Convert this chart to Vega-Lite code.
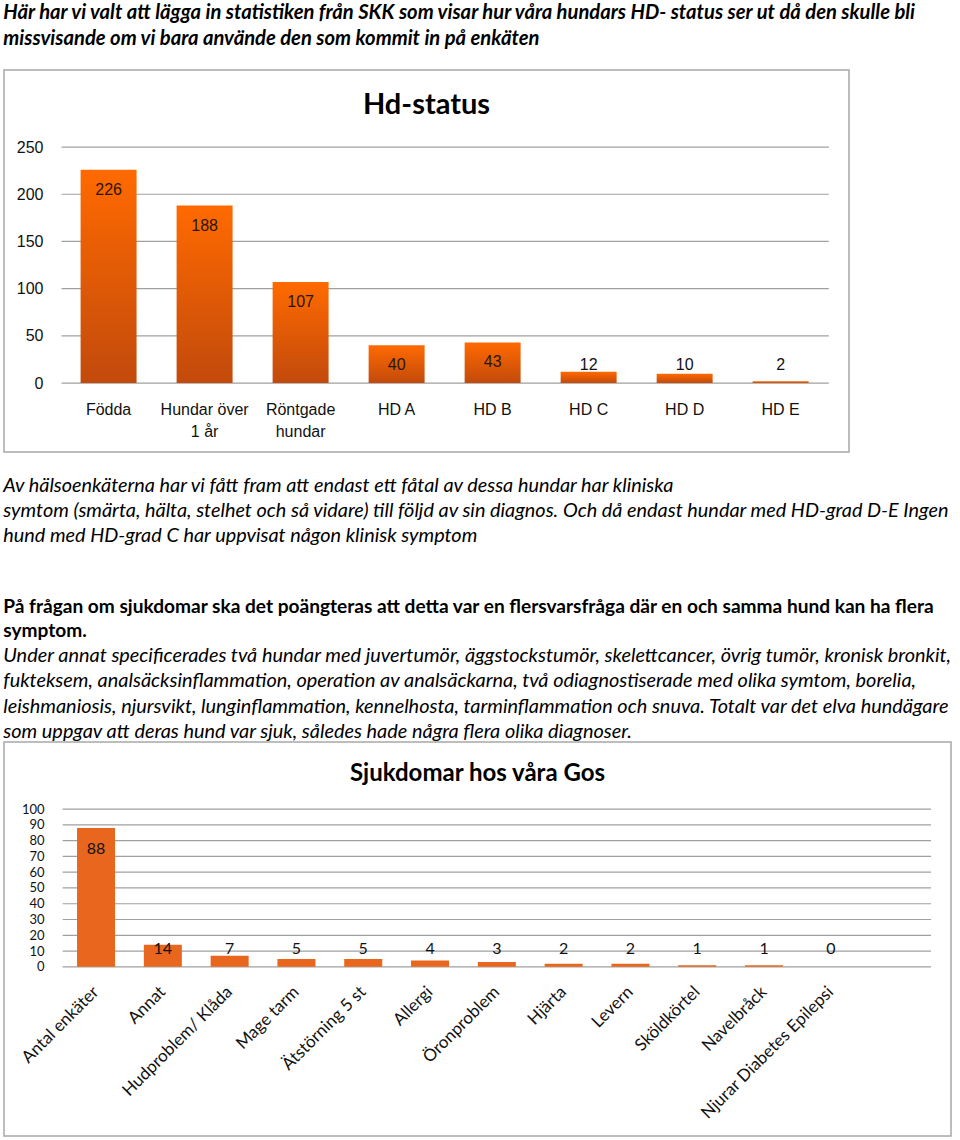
{
  "$schema": "https://vega.github.io/schema/vega-lite/v6.json",
  "background": "white",
  "padding": {"left": 3, "top": 3, "right": 0, "bottom": 0},
  "config": {
    "view": {"stroke": "#a8a8a8", "strokeWidth": 1.5},
    "concat": {"spacing": 0},
    "axis": {"domain": false, "ticks": false, "tickSize": 0, "grid": false, "title": null, "labelColor": "#111", "labelOverlap": false, "labelFlush": false, "labelLimit": 400},
    "axisY": {"labelOverlap": false},
    "axisQuantitative": {"labelOverlap": false}
  },
  "datasets": {
    "hd": [
      {"kategori": "Födda", "antal": 226},
      {"kategori": "Hundar över 1 år", "antal": 188},
      {"kategori": "Röntgade hundar", "antal": 107},
      {"kategori": "HD A", "antal": 40},
      {"kategori": "HD B", "antal": 43},
      {"kategori": "HD C", "antal": 12},
      {"kategori": "HD D", "antal": 10},
      {"kategori": "HD E", "antal": 2}
    ],
    "grid1": [{"v": 0}, {"v": 50}, {"v": 100}, {"v": 150}, {"v": 200}, {"v": 250}],
    "sjuk": [
      {"kategori": "Antal enkäter", "antal": 88},
      {"kategori": "Annat", "antal": 14},
      {"kategori": "Hudproblem/ Klåda", "antal": 7},
      {"kategori": "Mage tarm", "antal": 5},
      {"kategori": "Ätstörning 5 st", "antal": 5},
      {"kategori": "Allergi", "antal": 4},
      {"kategori": "Öronproblem", "antal": 3},
      {"kategori": "Hjärta", "antal": 2},
      {"kategori": "Levern", "antal": 2},
      {"kategori": "Sköldkörtel", "antal": 1},
      {"kategori": "Navelbråck", "antal": 1},
      {"kategori": "Njurar Diabetes Epilepsi", "antal": 0}
    ],
    "grid2": [{"v": 0}, {"v": 10}, {"v": 20}, {"v": 30}, {"v": 40}, {"v": 50}, {"v": 60}, {"v": 70}, {"v": 80}, {"v": 90}, {"v": 100}]
  },
  "title": {
    "text": ["Här har vi valt att lägga in statistiken från SKK som visar hur våra hundars HD- status ser ut då den skulle bli", "missvisande om vi bara använde den som kommit in på enkäten"],
    "anchor": "start", "font": "Lato", "fontSize": 20.2, "fontWeight": "bold", "fontStyle": "italic", "lineHeight": 26, "color": "#000", "offset": 20
  },
  "spacing": 51,
  "vconcat": [
    {
      "title": {
        "text": ["Av hälsoenkäterna har vi fått fram att endast ett fåtal av dessa hundar har kliniska", "symtom (smärta, hälta, stelhet och så vidare) till följd av sin diagnos. Och då endast hundar med HD-grad D-E Ingen", "hund med HD-grad C har uppvisat någon klinisk symptom"],
        "orient": "bottom", "anchor": "start", "font": "Lato", "fontSize": 19.85, "fontWeight": "normal", "fontStyle": "italic", "lineHeight": 25, "color": "#000", "offset": 23
      },
      "vconcat": [
        {
          "width": 845,
          "height": 382,
          "title": {"text": "Hd-status", "font": "Lato", "fontSize": 29, "fontWeight": "bold", "color": "#000", "anchor": "middle", "offset": -50},
          "layer": [
            {
              "data": {"name": "grid1"},
              "mark": {"type": "rule", "color": "#a0a0a0", "strokeWidth": 1.2},
              "encoding": {
                "y": {"field": "v", "type": "quantitative", "scale": {"domain": [-73, 331.6], "nice": false, "zero": false},
                  "axis": {"orient": "left", "offset": -39, "labelPadding": 0, "labelOverlap": false, "values": [0, 50, 100, 150, 200, 250], "labelFont": "Liberation Sans", "labelFontSize": 16}},
                "x": {"datum": "Födda", "bandPosition": -0.34},
                "x2": {"datum": "HD E", "bandPosition": 1.36}
              }
            },
            {
              "data": {"name": "hd"},
              "mark": {"type": "bar", "color": {"gradient": "linear", "x1": 0, "y1": 0, "x2": 0, "y2": 1, "stops": [{"offset": 0, "color": "#ff6a00"}, {"offset": 1, "color": "#c24a0c"}]}},
              "encoding": {
                "x": {
                  "field": "kategori", "type": "nominal", "sort": null,
                  "scale": {"domain": ["Födda", "Hundar över 1 år", "Röntgade hundar", "HD A", "HD B", "HD C", "HD D", "HD E"], "paddingInner": 0.417, "paddingOuter": 0.609, "align": 0.655},
                  "axis": {"orient": "bottom", "offset": -69, "labelPadding": 18, "labelAngle": 0, "labelAlign": "center", "labelFont": "Liberation Sans", "labelFontSize": 16, "labelLineHeight": 22, "labelBaseline": "top",
                    "labelExpr": "datum.value == 'Hundar över 1 år' ? ['Hundar över', '1 år'] : datum.value == 'Röntgade hundar' ? ['Röntgade', 'hundar'] : datum.label"}
                },
                "y": {
                  "field": "antal", "type": "quantitative",
                  "scale": {"domain": [-73, 331.6], "nice": false, "zero": false},
                  "axis": {"orient": "left", "offset": -39, "labelPadding": 0, "labelOverlap": false, "values": [0, 50, 100, 150, 200, 250], "labelFont": "Liberation Sans", "labelFontSize": 16}
                }
              }
            },
            {
              "data": {"name": "hd"},
              "transform": [{"filter": "datum.antal >= 40"}],
              "mark": {"type": "text", "font": "Liberation Sans", "fontSize": 16, "color": "#2a1608", "baseline": "middle", "dy": 20},
              "encoding": {
                "x": {"field": "kategori", "type": "nominal", "sort": null},
                "y": {"field": "antal", "type": "quantitative",
                  "axis": {"orient": "left", "offset": -39, "labelPadding": 0, "labelOverlap": false, "values": [0, 50, 100, 150, 200, 250], "labelFont": "Liberation Sans", "labelFontSize": 16}},
                "text": {"field": "antal", "type": "quantitative"}
              }
            },
            {
              "data": {"name": "hd"},
              "transform": [{"filter": "datum.antal < 40"}],
              "mark": {"type": "text", "font": "Liberation Sans", "fontSize": 16, "color": "#111", "baseline": "middle"},
              "encoding": {
                "x": {"field": "kategori", "type": "nominal", "sort": null},
                "y": {"datum": 19,
                  "axis": {"orient": "left", "offset": -39, "labelPadding": 0, "labelOverlap": false, "values": [0, 50, 100, 150, 200, 250], "labelFont": "Liberation Sans", "labelFontSize": 16}},
                "text": {"field": "antal", "type": "quantitative"}
              }
            }
          ]
        }
      ]
    },
    {
      "title": {
        "text": ["På frågan om sjukdomar ska det poängteras att detta var en flersvarsfråga där en och samma hund kan ha flera", "symptom."],
        "subtitle": ["Under annat specificerades två hundar med juvertumör, äggstockstumör, skelettcancer, övrig tumör, kronisk bronkit,", "fukteksem, analsäcksinflammation, operation av analsäckarna, två odiagnostiserade med olika symtom, borelia,", "leishmaniosis, njursvikt, lunginflammation, kennelhosta, tarminflammation och snuva. Totalt var det elva hundägare", "som uppgav att deras hund var sjuk, således hade några flera olika diagnoser."],
        "anchor": "start", "font": "Lato", "fontSize": 19.1, "fontWeight": "bold", "lineHeight": 24, "color": "#000",
        "subtitleFont": "Lato", "subtitleFontSize": 19.9, "subtitleFontStyle": "italic", "subtitleLineHeight": 25.5, "subtitleColor": "#000", "subtitlePadding": 5,
        "offset": -1
      },
      "vconcat": [
        {
          "width": 947,
          "height": 394,
          "title": {"text": "Sjukdomar hos våra Gos", "font": "Lato", "fontSize": 24, "fontWeight": "bold", "color": "#000", "anchor": "middle", "offset": -44},
          "layer": [
            {
              "data": {"name": "grid2"},
              "mark": {"type": "rule", "color": "#a0a0a0", "strokeWidth": 1.2},
              "encoding": {
                "y": {"field": "v", "type": "quantitative", "scale": {"domain": [-107.2, 142.5], "nice": false, "zero": false},
                  "axis": {"orient": "left", "offset": -40, "labelPadding": 0, "labelOverlap": false, "values": [0, 10, 20, 30, 40, 50, 60, 70, 80, 90, 100], "labelFont": "Lato", "labelFontSize": 13}},
                "x": {"datum": "Antal enkäter", "bandPosition": -0.379},
                "x2": {"datum": " ", "bandPosition": 1.379}
              }
            },
            {
              "data": {"name": "sjuk"},
              "mark": {"type": "bar", "color": "#e8661e"},
              "encoding": {
                "x": {
                  "field": "kategori", "type": "nominal", "sort": null,
                  "scale": {"domain": ["Antal enkäter", "Annat", "Hudproblem/ Klåda", "Mage tarm", "Ätstörning 5 st", "Allergi", "Öronproblem", "Hjärta", "Levern", "Sköldkörtel", "Navelbråck", "Njurar Diabetes Epilepsi", " "], "paddingInner": 0.431, "paddingOuter": 0.804, "align": 0.68},
                  "axis": {"orient": "bottom", "offset": -169, "labelPadding": 22, "labelAngle": -45, "labelAlign": "right", "labelBaseline": "middle", "labelFont": "Lato", "labelFontSize": 17}
                },
                "y": {
                  "field": "antal", "type": "quantitative",
                  "scale": {"domain": [-107.2, 142.5], "nice": false, "zero": false},
                  "axis": {"orient": "left", "offset": -40, "labelPadding": 0, "labelOverlap": false, "values": [0, 10, 20, 30, 40, 50, 60, 70, 80, 90, 100], "labelFont": "Lato", "labelFontSize": 13}
                }
              }
            },
            {
              "data": {"name": "sjuk"},
              "transform": [{"filter": "datum.antal >= 50"}],
              "mark": {"type": "text", "font": "Lato", "fontSize": 16, "color": "#111", "baseline": "middle", "dy": 21},
              "encoding": {
                "x": {"field": "kategori", "type": "nominal", "sort": null},
                "y": {"field": "antal", "type": "quantitative",
                  "axis": {"orient": "left", "offset": -40, "labelPadding": 0, "labelOverlap": false, "values": [0, 10, 20, 30, 40, 50, 60, 70, 80, 90, 100], "labelFont": "Lato", "labelFontSize": 13}},
                "text": {"field": "antal", "type": "quantitative"}
              }
            },
            {
              "data": {"name": "sjuk"},
              "transform": [{"filter": "datum.antal < 50"}],
              "mark": {"type": "text", "font": "Lato", "fontSize": 16, "color": "#111", "baseline": "middle"},
              "encoding": {
                "x": {"field": "kategori", "type": "nominal", "sort": null},
                "y": {"datum": 11.4,
                  "axis": {"orient": "left", "offset": -40, "labelPadding": 0, "labelOverlap": false, "values": [0, 10, 20, 30, 40, 50, 60, 70, 80, 90, 100], "labelFont": "Lato", "labelFontSize": 13}},
                "text": {"field": "antal", "type": "quantitative"}
              }
            }
          ]
        }
      ]
    }
  ]
}
